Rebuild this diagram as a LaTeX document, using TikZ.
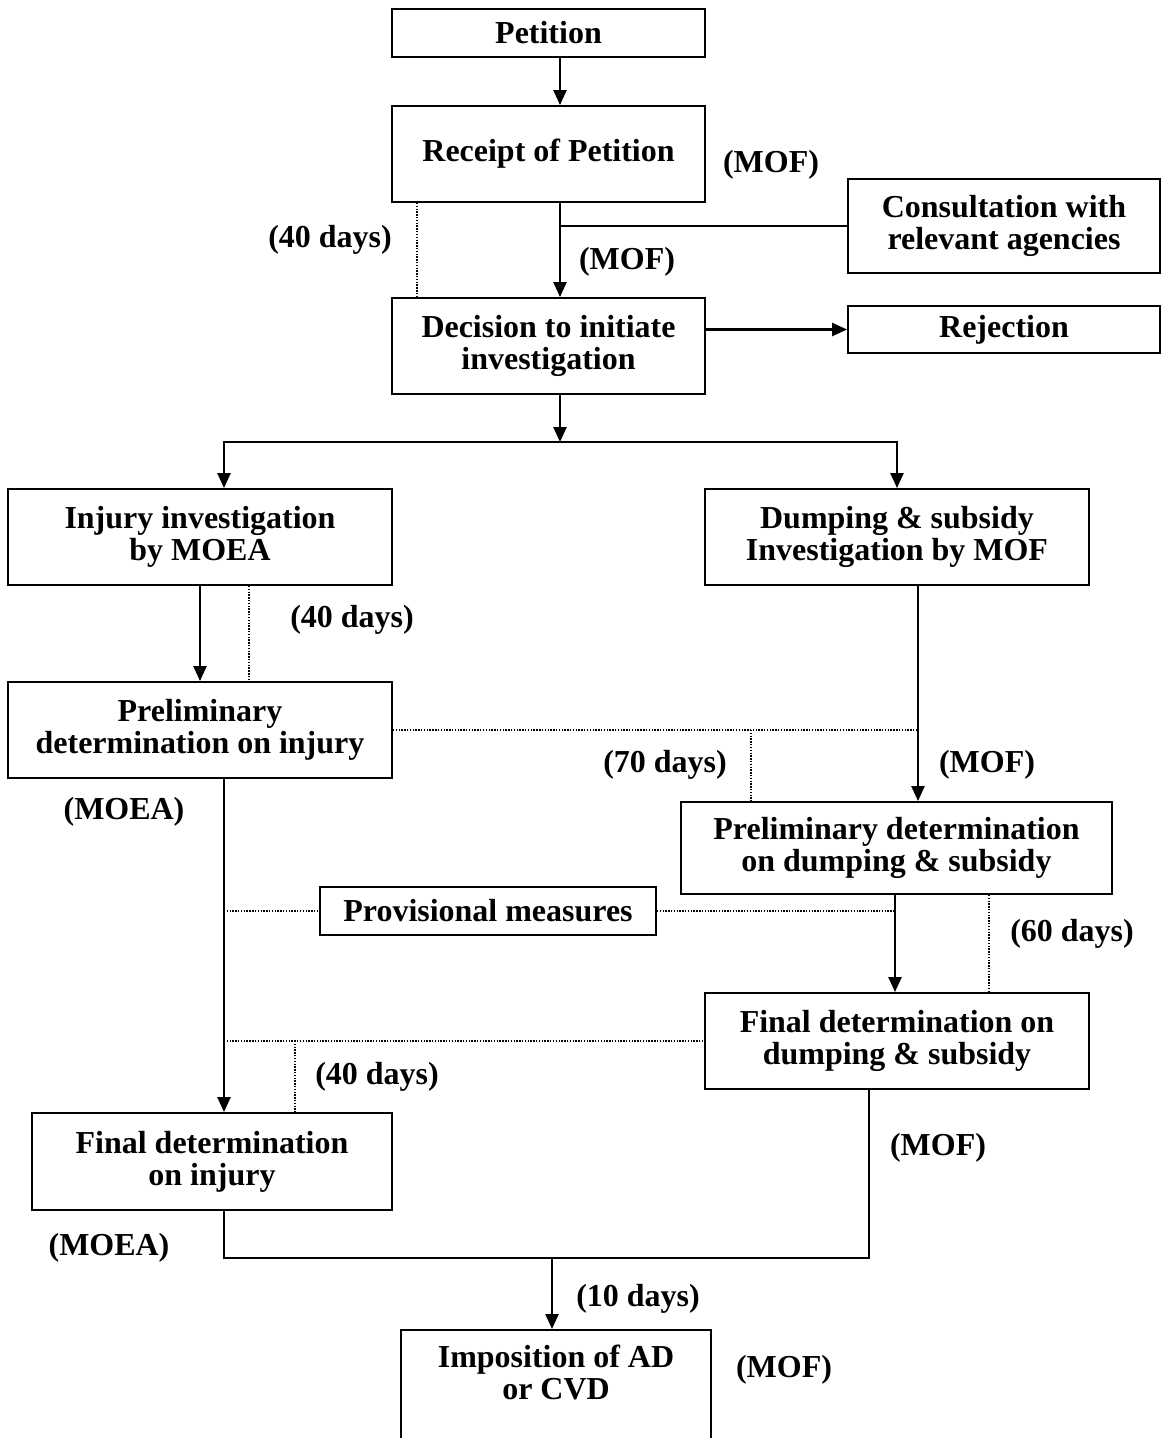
\documentclass[tikz,border=0pt]{standalone}
\usepackage{fontspec}
\setmainfont{Liberation Serif}
\usetikzlibrary{arrows.meta}

\begin{document}
\begin{tikzpicture}[x=0.02cm, y=-0.02cm]
        \tikzstyle Flow Box=[draw, line width=1.1pt, inner sep=0pt, align=center, font=\bfseries\fontsize{18.2pt}{18.2pt}\selectfont]
        \tikzstyle Note Text=[inner sep=0pt, font=\bfseries\fontsize{18.2pt}{18.2pt}\selectfont]
        \tikzstyle Flow Line=[line width=1.4pt]
        \tikzstyle Flow Arrow=[Flow Line, -{Triangle[length=0.3cm, width=0.26cm]}]
        \tikzstyle Time Line=[line width=0.6pt, dash pattern=on 0.8pt off 0.8pt]

        \useasboundingbox (0, 0) rectangle (1161, 1438);
        \clip (0, 0) rectangle (1161, 1438);

        % boxes
        \node[Flow Box, minimum width=6.26cm, minimum height=0.96cm] (petition) at (548.5, 33) {Petition};
        \node[Flow Box, minimum width=6.26cm, minimum height=1.92cm] (receipt) at (548.5, 154) {Receipt of Petition};
        \node[Flow Box, minimum width=6.24cm, minimum height=1.88cm] (consult) at (1004, 226) {Consultation with\\relevant agencies};
        \node[Flow Box, minimum width=6.26cm, minimum height=1.92cm] (decision) at (548.5, 346) {Decision to initiate\\investigation};
        \node[Flow Box, minimum width=6.24cm, minimum height=0.94cm] (reject) at (1004, 329.5) {Rejection};
        \node[Flow Box, minimum width=7.68cm, minimum height=1.92cm] (injinv) at (200, 537) {Injury investigation\\by MOEA};
        \node[Flow Box, minimum width=7.68cm, minimum height=1.92cm] (dumpinv) at (897, 537) {Dumping \& subsidy\\Investigation by MOF};
        \node[Flow Box, minimum width=7.68cm, minimum height=1.92cm] (prelinj) at (200, 730) {Preliminary\\determination on injury};
        \node[Flow Box, minimum width=8.62cm, minimum height=1.84cm] (preldump) at (896.5, 848) {Preliminary determination\\on dumping \& subsidy};
        \node[Flow Box, minimum width=6.72cm, minimum height=0.96cm] (prov) at (488, 911) {Provisional measures};
        \node[Flow Box, minimum width=7.68cm, minimum height=1.92cm] (findump) at (897, 1041) {Final determination on\\dumping \& subsidy};
        \node[Flow Box, minimum width=7.2cm, minimum height=1.94cm] (fininj) at (212, 1161.5) {Final determination\\on injury};
        \node[Flow Box, minimum width=6.2cm, anchor=north, inner ysep=0.3cm] (impose) at (556, 1329) {Imposition of AD\\or CVD\\[2.2cm]\strut};

        % notes
        \node[Note Text] (mof receipt) at (771, 165) {(MOF)};
        \node[Note Text] (days receipt) at (330, 240) {(40 days)};
        \node[Note Text] (mof decision) at (627, 262) {(MOF)};
        \node[Note Text] (days injury) at (352, 620) {(40 days)};
        \node[Note Text] (days prelim) at (665, 765) {(70 days)};
        \node[Note Text] (mof prelim) at (987, 765) {(MOF)};
        \node[Note Text] (moea prelim) at (124, 812) {(MOEA)};
        \node[Note Text] (days final) at (1072, 934) {(60 days)};
        \node[Note Text] (days fininj) at (377, 1077) {(40 days)};
        \node[Note Text] (mof final) at (938, 1148) {(MOF)};
        \node[Note Text] (moea final) at (109, 1248) {(MOEA)};
        \node[Note Text] (days impose) at (638, 1299) {(10 days)};
        \node[Note Text] (mof impose) at (784, 1370) {(MOF)};

        % trunks
        \coordinate (spine) at (560, 0);
        \coordinate (fork) at (560, 442);
        \coordinate (left trunk) at (224, 0);
        \coordinate (right trunk) at (918, 0);
        \coordinate (mid trunk) at (895, 0);
        \coordinate (return trunk) at (869, 0);
        \coordinate (join) at (552, 1258);

        \draw[Flow Arrow] (petition.south -| spine) -- (receipt.north -| spine);
        \draw[Flow Arrow] (receipt.south -| spine) -- (decision.north -| spine);
        \draw[Flow Line] (spine |- consult.west) -- (consult.west);
        \draw[Flow Arrow] (decision.east |- reject.west) -- (reject.west);
        \draw[Flow Arrow] (decision.south -| spine) -- (fork);
        \draw[Flow Arrow] (fork) -| (injinv.north -| left trunk);
        \draw[Flow Arrow] (fork) -| (dumpinv.north);
        \draw[Flow Arrow] (injinv.south) -- (prelinj.north);
        \draw[Flow Arrow] (dumpinv.south -| right trunk) -- (preldump.north -| right trunk);
        \draw[Flow Arrow] (prelinj.south -| left trunk) -- (fininj.north -| left trunk);
        \draw[Flow Arrow] (preldump.south -| mid trunk) -- (findump.north -| mid trunk);
        \draw[Flow Line] (fininj.south -| left trunk) |- (join) -| (findump.south -| return trunk);
        \draw[Flow Arrow] (join) -- (impose.north -| join);

        % time spans
        \coordinate (span receipt) at (417, 0);
        \coordinate (span injury) at (249, 0);
        \coordinate (span prelim) at (751, 0);
        \coordinate (span final) at (989, 0);
        \coordinate (span fininj) at (295, 0);

        \draw[Time Line] (receipt.south -| span receipt) -- (decision.north -| span receipt);
        \draw[Time Line] (injinv.south -| span injury) -- (prelinj.north -| span injury);
        \draw[Time Line] (prelinj.east) -- (prelinj.east -| right trunk);
        \draw[Time Line] (prelinj.east -| span prelim) -- (preldump.north -| span prelim);
        \draw[Time Line] (left trunk |- prov.west) -- (prov.west);
        \draw[Time Line] (prov.east) -- (prov.east -| mid trunk);
        \draw[Time Line] (preldump.south -| span final) -- (findump.north -| span final);
        \draw[Time Line] (left trunk |- findump.west) -- (findump.west);
        \draw[Time Line] (findump.west -| span fininj) -- (fininj.north -| span fininj);
\end{tikzpicture}
\end{document}
